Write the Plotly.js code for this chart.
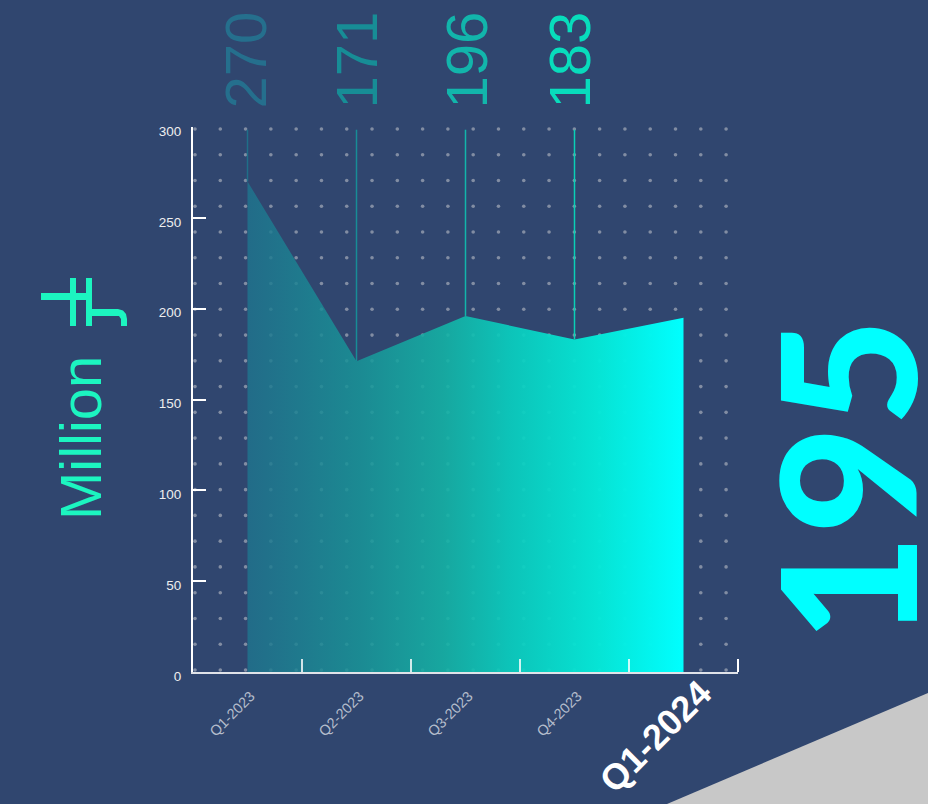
<!DOCTYPE html>
<html>
<head>
<meta charset="utf-8">
<script src="https://cdn.plot.ly/plotly-3.0.1.min.js"></script>
<style>html,body{margin:0;padding:0;background:#30466f;}</style>
</head>
<body>
<div id="chart" style="width:928px;height:804px;"></div>
<script>
const quarters = ["Q1-2023", "Q2-2023", "Q3-2023", "Q4-2023", "Q1-2024"];
const revenue = [270, 171, 196, 183, 195];
const labelColors = ["#256f8d", "#178d96", "#12b5ab", "#08dcbc"];
const stemColors = ["#1f6f88", "#178d96", "#12b5ab", "#0ad0b6"];
const labelNudge = [-2, 0, 1, -5];
const yTicks = [0, 50, 100, 150, 200, 250, 300];
const unitLabel = "Million";
const latestValue = "195";

const BG = "#30466f";
const W = 928, H = 804, L = 193, R = 738, T = 127, B = 672;
const pw = R - L, ph = B - T;
const fx = p => (p - L) / pw;
const fy = p => (B - p) / ph;

// decorative dot lattice, in plot fractions of the x range and y data units
const dotX = [], dotY = [];
for (let i = 0; i < 22; i++) {
  for (let j = 0; j < 22; j++) {
    dotX.push(fx(195 + i * 25.29));
    dotY.push((B - (129 + j * 25.76)) / ph * 300);
  }
}

const traces = [
  {
    type: "scatter", mode: "markers", x: dotX, y: dotY, xaxis: "x", yaxis: "y",
    marker: { size: 3.6, color: "rgba(220,220,220,0.48)" },
    hoverinfo: "skip", showlegend: false, cliponaxis: false
  },
  {
    type: "scatter", mode: "lines", x: quarters, y: revenue, xaxis: "x2", yaxis: "y",
    line: { width: 0, color: "#00ffff" }, fill: "tozeroy",
    fillgradient: {
      type: "horizontal",
      colorscale: [
        [0, "rgba(31,116,142,0.82)"],
        [0.25, "rgba(24,148,152,0.86)"],
        [0.45, "rgba(20,178,165,0.90)"],
        [0.6, "rgba(10,205,190,0.93)"],
        [0.8, "rgba(5,232,215,0.97)"],
        [1, "rgba(0,255,255,1)"]
      ]
    },
    showlegend: false
  }
];
quarters.slice(0, 4).forEach((q, i) => {
  traces.push({
    type: "scatter", mode: "lines", x: [q, q], y: [revenue[i], 298.5], xaxis: "x2", yaxis: "y",
    line: { width: 1.5, color: stemColors[i] }, showlegend: false, hoverinfo: "skip"
  });
});

const annotations = quarters.slice(0, 4).map((q, i) => ({
  xref: "x2", yref: "paper", x: q, y: fy(60), text: String(revenue[i]),
  textangle: -90, showarrow: false, xanchor: "center", yanchor: "middle", xshift: labelNudge[i],
  font: { family: "Liberation Sans", size: 58, color: labelColors[i] }
}));
annotations.push({
  xref: "paper", yref: "paper", x: fx(655), y: fy(736), text: "<b>" + quarters[4] + "</b>",
  textangle: -45, showarrow: false, xanchor: "center", yanchor: "middle",
  font: { family: "Liberation Sans", size: 36, color: "#ffffff" }
});
annotations.push({
  xref: "paper", yref: "paper", x: fx(845), y: fy(480), text: latestValue,
  textangle: -90, showarrow: false, xanchor: "center", yanchor: "middle",
  font: { family: "Lato", size: 186, weight: 900, color: "#00ffff" }
});
const glyphColor = "#1cf5c0";
annotations.push({
  xref: "paper", yref: "paper", x: fx(80.5), y: fy(438.5), text: unitLabel,
  textangle: -90, showarrow: false, xanchor: "center", yanchor: "middle",
  font: { family: "Liberation Sans", size: 58, color: glyphColor }
});

function P(pts) {
  return pts.map((p, i) => (i ? "L" : "M") + fx(p[0]) + "," + fy(p[1])).join("") + "Z";
}
const shapes = [
  { type: "path", xref: "paper", yref: "paper", layer: "below", line: { width: 0 }, fillcolor: "#c8c8c8",
    path: P([[667, 804], [928, 693], [928, 804]]) },
  { type: "line", xref: "paper", yref: "paper", x0: 1, x1: 1, y0: 0, y1: fy(659),
    line: { width: 2, color: "#ffffff" } },
  { type: "path", xref: "paper", yref: "paper", line: { width: 0 }, fillcolor: glyphColor,
    path: P([[41, 293], [70, 293], [70, 278], [76, 278], [76, 293], [86, 293], [86, 278], [92, 278], [92, 309],
             [118, 309], [123, 310.5], [126, 314], [127, 319], [127, 326], [121, 326], [121, 319], [119, 316],
             [92, 316], [92, 326], [86, 326], [86, 300], [76, 300], [76, 326], [70, 326], [70, 300], [41, 300]]) }
];

const layout = {
  width: W, height: H,
  margin: { l: L, r: W - R, t: T, b: H - B, pad: 0 },
  paper_bgcolor: BG, plot_bgcolor: BG,
  showlegend: false,
  font: { family: "Liberation Sans", color: "#ffffff" },
  xaxis: { type: "linear", range: [0, 1], visible: false, fixedrange: true },
  xaxis2: {
    type: "category", overlaying: "x", anchor: "y", categoryorder: "array", categoryarray: quarters,
    range: [-0.5, 4.5], tickmode: "array", tickvals: quarters,
    ticktext: quarters.slice(0, 4).concat([" "]),
    tickson: "boundaries", ticks: "inside", ticklen: 13, tickwidth: 2, tickcolor: "rgba(255,255,255,0.8)",
    showline: true, linecolor: "rgba(255,255,255,0.85)", linewidth: 2, showgrid: false, zeroline: false,
    layer: "above traces", tickangle: -45, ticklabelstandoff: 8, ticklabelshift: 3,
    tickfont: { family: "Liberation Sans", size: 14.5, color: "#b4bccb" }
  },
  yaxis: {
    range: [0, 300], tickmode: "array", tickvals: yTicks, ticks: "inside", ticklen: 13, tickwidth: 2,
    tickcolor: "#ffffff", showline: true, linecolor: "#ffffff", linewidth: 2, showgrid: false, zeroline: false,
    ticklabelshift: 4, ticklabelstandoff: 7,
    tickfont: { family: "Liberation Sans", size: 13.5, color: "#eeeeee" }
  },
  annotations, shapes
};

Plotly.newPlot("chart", traces, layout, { displayModeBar: false, responsive: false });
</script>
</body>
</html>
